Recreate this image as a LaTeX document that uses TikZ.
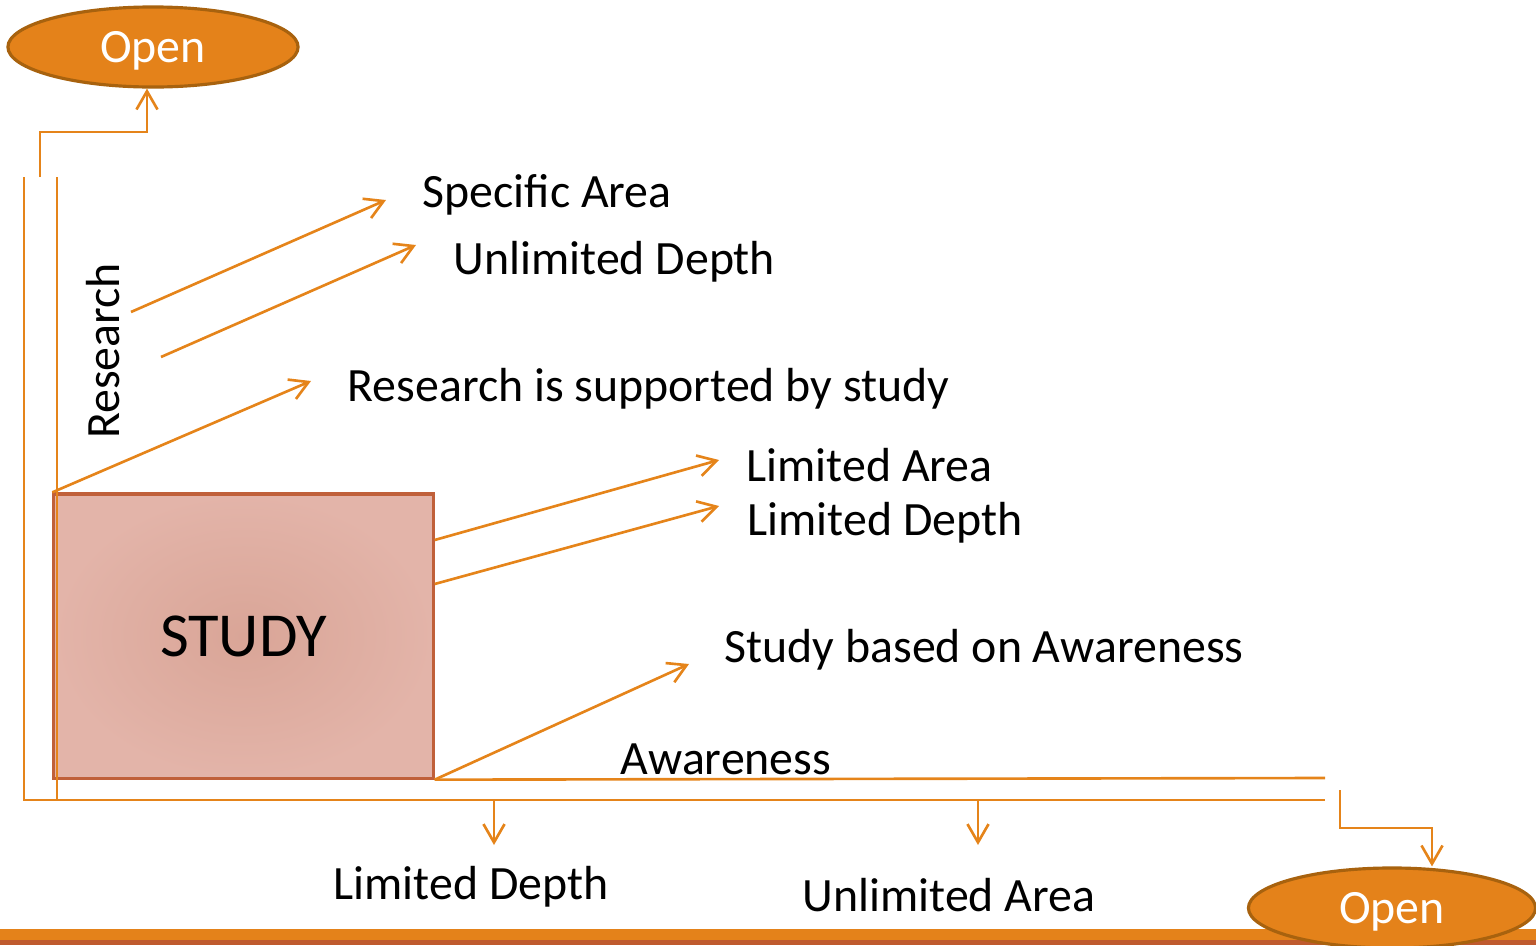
\documentclass[tikz,border=0pt]{standalone}
\usepackage{fontspec}
\setmainfont{Carlito}
\usetikzlibrary{arrows.meta,shapes.geometric}
\definecolor{flow}{HTML}{E5841A}
\definecolor{capsulefill}{HTML}{E4821A}
\definecolor{capsuleedge}{HTML}{A8620E}
\definecolor{boxfill}{HTML}{E3B4A9}
\definecolor{boxcore}{HTML}{D9A597}
\definecolor{boxedge}{HTML}{C0603A}
\definecolor{bardark}{HTML}{BF5A2E}
\tikzset{
  line/.style={draw=flow, line width=0.75pt},
  arr/.style={line, ->},
  capsule/.style={ellipse, fill=capsulefill, draw=capsuleedge, line width=0.9pt,
    minimum width=2.9cm, minimum height=0.8cm, inner sep=0pt, text=white,
    text depth=0pt, font=\fontsize{13.6}{16}\selectfont},
  lbl/.style={anchor=base west, inner sep=0pt, font=\fontsize{13.6}{16}\selectfont},
}
\begin{document}
\begin{tikzpicture}[x=0.01cm, y=-0.01cm, >={Straight Barb[length=5.2pt,width=6pt]}]
		\useasboundingbox (0,0) rectangle (1536,945);
		
		% bottom band
		\fill[capsulefill] (0,929) rectangle (1536,940);
		\fill[bardark] (0,940) rectangle (1536,945);
		
		\node[capsule] (topopen) at (153,47) {Open};
		\node[capsule, minimum width=2.87cm] (botopen) at (1392,908) {Open};
		
		\node[draw=boxedge, line width=0.9pt, inner color=boxcore, outer color=boxfill, minimum width=3.79cm, minimum height=2.84cm, font=\fontsize{17.8}{20}\selectfont] (study) at (243.5,636) {STUDY};
		
		% frame lines
		\draw[line] (24,177) -- (24,800) -- (1325,800);
		\draw[line] (57,177) -- (57,800);
		\draw[line] (study.south east) -- (1325,778);
		
		% exits to the two Open nodes
		\coordinate (stem1) at (40,177);
		\coordinate (bend1) at (147,132);
		\draw[arr] (stem1) |- (bend1) -- (bend1 |- topopen.south);
		\coordinate (stem2) at (1340,790);
		\coordinate (bend2) at (1432,828);
		\draw[arr] (stem2) |- (bend2) -- (bend2 |- botopen.north);
		
		% texts
		\node[lbl, anchor=base, rotate=90] (research) at (120,351) {Research};
		\node[lbl] (specarea) at (422,207) {Specific Area};
		\node[lbl] (unldepth) at (453,274) {Unlimited Depth};
		\node[lbl] (supported) at (347,401) {Research is supported by study};
		\node[lbl] (limarea) at (746,481) {Limited Area};
		\node[lbl] (limdepth) at (747,535) {Limited Depth};
		\node[lbl] (basedon) at (724,662) {Study based on Awareness};
		\node[lbl] (awareness) at (620,774) {Awareness};
		\node[lbl] (botdepth) at (333,899) {Limited Depth};
		\node[lbl] (botarea) at (802,911) {Unlimited Area};
		
		% arrows
		\draw[arr] (131,312) -- (386,200);
		\draw[arr] (161,357) -- (416,245);
		\draw[arr] (study.north west) -- (311,381);
		\draw[arr] (study.east |- 0,540) -- (719,460);
		\draw[arr] (study.east |- 0,584) -- (719,506);
		\draw[arr] (study.south east) -- (689,664);
		\draw[arr] (494,800) -- (494,845);
		\draw[arr] (978,800) -- (978,845);
\end{tikzpicture}
\end{document}
